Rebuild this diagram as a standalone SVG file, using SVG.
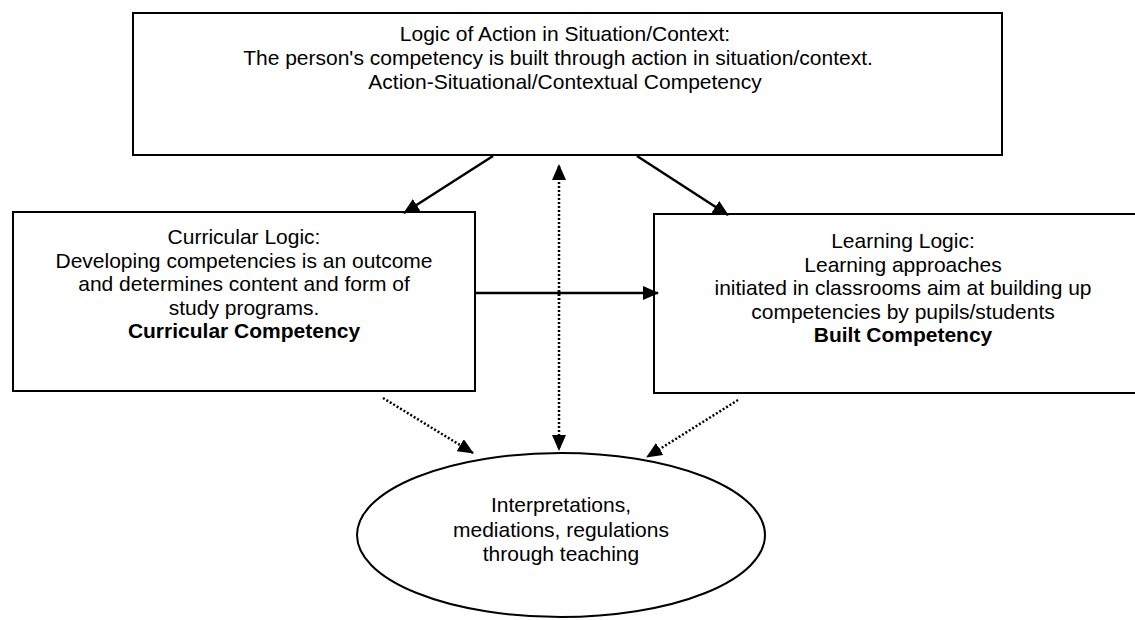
<svg xmlns="http://www.w3.org/2000/svg" width="1135" height="620" viewBox="0 0 1135 620">
<defs>
<marker id="ah" viewBox="0 0 16 14" refX="15" refY="7" markerWidth="16" markerHeight="14" markerUnits="userSpaceOnUse" orient="auto">
<path d="M0,0 L16,7 L0,14 Z" fill="#000"/>
</marker>
<style>
.box{fill:#fff;stroke:#000;stroke-width:2}
.t{font-family:"Liberation Sans",Arial,sans-serif;font-size:21px;fill:#000;text-anchor:middle}
.b{font-weight:bold}
.solid{stroke:#000;stroke-width:2.5;fill:none}
.dot{stroke:#000;stroke-width:2.5;fill:none;stroke-dasharray:2 2}
</style>
</defs>
<rect width="1135" height="620" fill="#fff"/>
<g id="top">
<rect class="box" x="133" y="13" width="869" height="142"/>
<text class="t" x="565" y="41">Logic of Action in Situation/Context:</text>
<text class="t" x="558" y="65">The person's competency is built through action in situation/context.</text>
<text class="t" x="565" y="89">Action-Situational/Contextual Competency</text>
</g>
<g id="curricular">
<rect class="box" x="13" y="212" width="462" height="179"/>
<text class="t" x="244" y="244">Curricular Logic:</text>
<text class="t" x="244" y="267.5">Developing competencies is an outcome</text>
<text class="t" x="244" y="291">and determines content and form of</text>
<text class="t" x="244" y="314.5">study programs.</text>
<text class="t b" x="244" y="338">Curricular Competency</text>
</g>
<g id="learning">
<rect class="box" x="654" y="214" width="500" height="179"/>
<text class="t" x="903" y="248">Learning Logic:</text>
<text class="t" x="903" y="271.5">Learning approaches</text>
<text class="t" x="903" y="295">initiated in classrooms aim at building up</text>
<text class="t" x="903" y="318.5">competencies by pupils/students</text>
<text class="t b" x="903" y="342">Built Competency</text>
</g>
<g id="teaching">
<ellipse class="box" cx="561" cy="535" rx="204" ry="82"/>
<text class="t" x="561" y="512">Interpretations,</text>
<text class="t" x="561" y="536.5">mediations, regulations</text>
<text class="t" x="561" y="561">through teaching</text>
</g>
<g id="connectors">
<line class="solid" x1="493" y1="156" x2="404" y2="213" marker-end="url(#ah)"/>
<line class="solid" x1="637" y1="156" x2="728" y2="215" marker-end="url(#ah)"/>
<line class="solid" x1="475" y1="293" x2="658" y2="293" marker-end="url(#ah)"/>
<line class="dot" x1="559" y1="300" x2="559" y2="165" marker-end="url(#ah)"/>
<line class="dot" x1="559" y1="290" x2="559" y2="450" marker-end="url(#ah)"/>
<line class="dot" x1="383" y1="398" x2="473" y2="453" marker-end="url(#ah)"/>
<line class="dot" x1="738" y1="400" x2="647" y2="457" marker-end="url(#ah)"/>
</g>
</svg>
